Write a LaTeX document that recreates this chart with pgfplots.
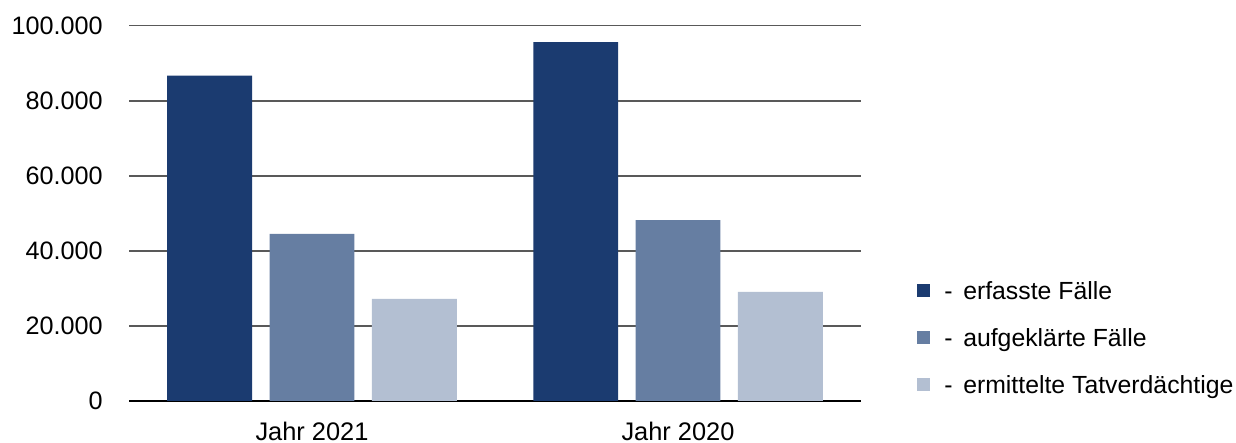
\documentclass[border=0pt]{standalone}
\usepackage{pgfplots}
\pgfplotsset{compat=1.18}
\usepackage{fontspec}
\setmainfont{Liberation Sans}
\definecolor{cdark}{HTML}{1B3B70}
\definecolor{cmid}{HTML}{667EA2}
\definecolor{clight}{HTML}{B3BFD2}
\definecolor{cgrid}{HTML}{595959}
\begin{document}
\begin{tikzpicture}
\useasboundingbox (0,0) rectangle (618pt,221.5pt);
\begin{axis}[
  at={(64.5pt,21pt)}, anchor=south west,
  scale only axis, width=366pt, height=187.65pt,
  xmin=-0.5, xmax=1.5, ymin=0, ymax=100000,
  xtick={0,1}, xticklabels={Jahr 2021,Jahr 2020},
  ytick={0,20000,40000,60000,80000,100000},
  yticklabels={0,20.000,40.000,60.000,80.000,100.000},
  scaled y ticks=false,
  major tick length=0pt,
  ymajorgrids, grid style={cgrid, line width=0.75pt},
  axis lines*=left,
  x axis line style={black, line width=0.75pt, -},
  y axis line style={draw=none},
  yticklabel style={font=\fontsize{12.6}{14}\selectfont},
  xticklabel style={font=\fontsize{12.7}{14}\selectfont},
  xticklabel style={inner sep=0pt, anchor=north, yshift=-10.3pt},
  yticklabel style={inner sep=0pt, anchor=east, xshift=-13pt},
  ybar, bar width=0.232,
  legend style={at={(1.0765,0.170)}, anchor=west, draw=none, fill=none,
    inner sep=0pt, row sep=14.5pt,
    nodes={inner sep=0pt, text height=9pt, text depth=0pt, font=\fontsize{12.4}{14}\selectfont, anchor=west}},
  legend cell align=left,
]
\addplot[fill=cdark, draw=none, bar shift=-0.2795,
  legend image code/.code={\fill[cdark] (0pt,-3.2pt) rectangle (6.5pt,3.2pt); \path (13.5pt,0pt);}]
  coordinates {(0,86700) (1,95600)};
\addplot[fill=cmid, draw=none, bar shift=0,
  legend image code/.code={\fill[cmid] (0pt,-3.2pt) rectangle (6.5pt,3.2pt); \path (13.5pt,0pt);}]
  coordinates {(0,44500) (1,48200)};
\addplot[fill=clight, draw=none, bar shift=0.2795,
  legend image code/.code={\fill[clight] (0pt,-3.2pt) rectangle (6.5pt,3.2pt); \path (13.5pt,0pt);}]
  coordinates {(0,27200) (1,29100)};
\legend{-\hspace{5.3pt}erfasste Fälle, -\hspace{5.3pt}aufgeklärte Fälle, -\hspace{5.3pt}ermittelte Tatverdächtige}
\end{axis}
\end{tikzpicture}
\end{document}
